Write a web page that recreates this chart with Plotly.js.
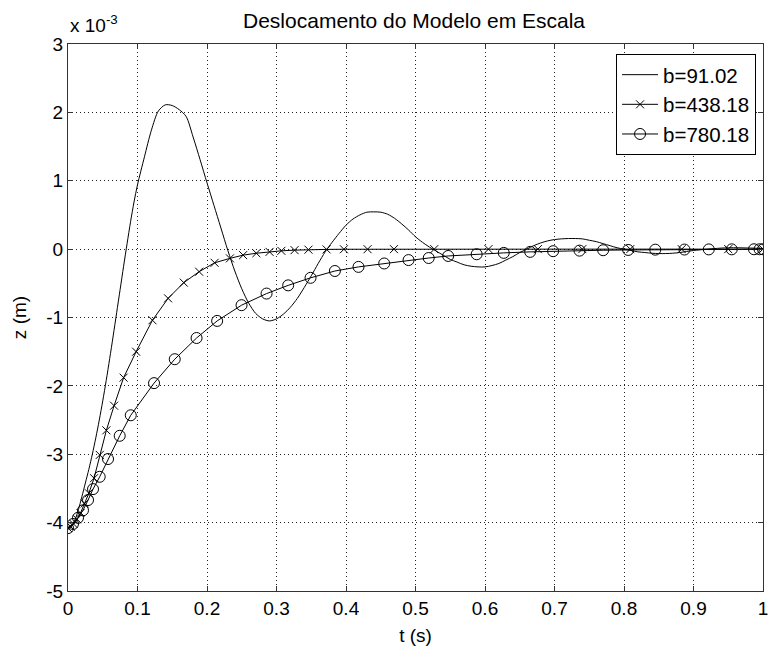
<!DOCTYPE html>
<html>
<head>
<meta charset="utf-8">
<script src="https://cdn.plot.ly/plotly-3.0.1.min.js"></script>
<style>html,body{margin:0;padding:0;background:#fff;}#chart{width:771px;height:657px;}</style>
</head>
<body>
<div id="chart"></div>
<script>
// z values are in units of 1e-3 m (see the "x 10^-3" label)
var t_b91 = [0, 0.005, 0.01, 0.015, 0.02, 0.025, 0.03, 0.035, 0.04, 0.045, 0.05, 0.055, 0.06, 0.065, 0.07, 0.075, 0.08, 0.085, 0.09, 0.095, 0.10,
  0.11, 0.12, 0.13, 0.14, 0.15, 0.16, 0.17, 0.18, 0.19, 0.20, 0.21, 0.22, 0.23, 0.24, 0.25, 0.26, 0.27, 0.28, 0.29, 0.30,
  0.31, 0.32, 0.33, 0.34, 0.35, 0.36, 0.37, 0.38, 0.39, 0.40, 0.41, 0.42, 0.43, 0.44, 0.45, 0.46, 0.47, 0.48, 0.49, 0.50,
  0.51, 0.52, 0.53, 0.54, 0.55, 0.56, 0.57, 0.58, 0.59, 0.60, 0.61, 0.62, 0.63, 0.64, 0.65, 0.66, 0.67, 0.68, 0.69, 0.70,
  0.71, 0.72, 0.73, 0.74, 0.75, 0.76, 0.77, 0.78, 0.79, 0.80, 0.81, 0.82, 0.83, 0.84, 0.85, 0.86, 0.87, 0.88, 0.89, 0.90,
  0.92, 0.95, 1.0];
var z_b91 = [-4.08, -4.05, -3.96, -3.81, -3.62, -3.42, -3.22, -3.00, -2.76, -2.50, -2.22, -1.92, -1.60, -1.27, -0.93, -0.59, -0.25, 0.08, 0.40, 0.69, 0.94,
  1.35, 1.74, 2.02, 2.11, 2.10, 2.04, 1.94, 1.64, 1.31, 0.97, 0.64, 0.31, -0.02, -0.32, -0.58, -0.79, -0.94, -1.02, -1.05, -1.02,
  -0.95, -0.85, -0.72, -0.56, -0.39, -0.21, -0.04, 0.10, 0.23, 0.35, 0.44, 0.50, 0.54, 0.545, 0.54, 0.51, 0.45, 0.37, 0.28, 0.18,
  0.10, 0.03, -0.03, -0.09, -0.15, -0.19, -0.23, -0.25, -0.26, -0.26, -0.24, -0.21, -0.16, -0.11, -0.05, 0.00, 0.05, 0.09, 0.12, 0.14,
  0.15, 0.155, 0.155, 0.15, 0.13, 0.11, 0.08, 0.05, 0.02, 0.00, -0.02, -0.04, -0.05, -0.06, -0.065, -0.065, -0.06, -0.05, -0.035, -0.02,
  0.00, 0.02, 0.01];

var t_b438 = [0, 0.004, 0.008, 0.013, 0.018, 0.024, 0.030, 0.0375, 0.0457, 0.0552, 0.0663, 0.080, 0.098, 0.1215, 0.144, 0.1666, 0.1887,
  0.211, 0.233, 0.252, 0.271, 0.29, 0.307, 0.326, 0.346, 0.372, 0.397, 0.431, 0.469, 0.527, 0.605, 0.676, 0.74, 0.809, 0.883, 0.95, 1.0];
var z_b438 = [-4.08, -4.06, -4.02, -3.95, -3.86, -3.72, -3.57, -3.35, -3.01, -2.65, -2.29, -1.88, -1.50, -1.04, -0.72, -0.49, -0.33,
  -0.20, -0.135, -0.088, -0.06, -0.04, -0.025, -0.015, -0.008, -0.004, -0.002, -0.001, 0, 0, 0, 0, 0, 0, 0, 0, 0];

var t_b780 = [0, 0.0072, 0.0144, 0.0216, 0.0288, 0.036, 0.0456, 0.0576, 0.0744, 0.0903, 0.1238, 0.1536, 0.185, 0.2146, 0.2497, 0.2857,
  0.3168, 0.349, 0.384, 0.418, 0.455, 0.49, 0.519, 0.547, 0.588, 0.627, 0.665, 0.698, 0.736, 0.770, 0.806, 0.845, 0.887, 0.922, 0.955,
  0.987, 0.995, 1.0];
var z_b780 = [-4.08, -4.02, -3.93, -3.82, -3.67, -3.51, -3.33, -3.07, -2.73, -2.43, -1.96, -1.61, -1.30, -1.05, -0.82, -0.65,
  -0.53, -0.42, -0.32, -0.26, -0.21, -0.16, -0.13, -0.10, -0.075, -0.055, -0.04, -0.03, -0.022, -0.016, -0.012, -0.008, -0.006, -0.004, -0.003,
  -0.002, -0.002, -0.002];

var seriesNames = ['b=91.02', 'b=438.18', 'b=780.18'];
var xTicks = [0, 0.1, 0.2, 0.3, 0.4, 0.5, 0.6, 0.7, 0.8, 0.9, 1];
var yTicks = [-5, -4, -3, -2, -1, 0, 1, 2, 3];

var FONT = 'Liberation Sans, Arial, sans-serif';

var traces = [
  {x: t_b91, y: z_b91, name: seriesNames[0], mode: 'lines', line: {color: '#000', width: 1, shape: 'spline', smoothing: 0.8}},
  {x: t_b438, y: z_b438, name: seriesNames[1], mode: 'lines+markers', line: {color: '#000', width: 1},
   marker: {symbol: 'x-thin-open', size: 8, color: '#000', line: {color: '#000', width: 1}}},
  {x: t_b780, y: z_b780, name: seriesNames[2], mode: 'lines+markers', line: {color: '#000', width: 1},
   marker: {symbol: 'circle-open', size: 11, color: '#000', line: {color: '#000', width: 1}}}
];

var axisCommon = {
  showline: true, linecolor: '#333', linewidth: 1, mirror: 'allticks',
  ticks: 'inside', ticklen: 5, tickcolor: '#333', tickwidth: 1,
  showgrid: true, gridcolor: '#222', gridwidth: 1, griddash: '1px,3px',
  zeroline: false, tickfont: {family: FONT, size: 19, color: '#000'}
};

var layout = {
  width: 771, height: 657,
  margin: {l: 68, r: 8, t: 44, b: 66, pad: 0},
  paper_bgcolor: '#fff', plot_bgcolor: '#fff',
  font: {family: FONT, color: '#000'},
  title: {text: 'Deslocamento do Modelo em Escala', font: {family: FONT, size: 21, color: '#000'},
          x: 0.537, xanchor: 'center', y: 0.968, yanchor: 'middle'},
  xaxis: Object.assign({}, axisCommon, {
    range: [0, 1], tickvals: xTicks, ticktext: xTicks.map(String),
    title: {text: 't (s)', font: {family: FONT, size: 19, color: '#000'}, standoff: 10}
  }),
  yaxis: Object.assign({}, axisCommon, {
    range: [-5, 3], tickvals: yTicks, ticktext: yTicks.map(String),
    title: {text: 'z (m)', font: {family: FONT, size: 19, color: '#000'}, standoff: 14}
  }),
  showlegend: true,
  legend: {x: 0.99, xanchor: 'right', y: 0.982, yanchor: 'top', bgcolor: '#fff', bordercolor: '#000', borderwidth: 1,
           font: {family: FONT, size: 20.5, color: '#000'}, tracegroupgap: 3, itemwidth: 36},
  annotations: [{
    text: 'x 10<sup>-3</sup>', xref: 'paper', yref: 'paper', x: 0, y: 1, xanchor: 'left', yanchor: 'bottom',
    yshift: 6, showarrow: false, font: {family: FONT, size: 19, color: '#000'}
  }]
};

Plotly.newPlot('chart', traces, layout, {displayModeBar: false, staticPlot: true});
</script>
</body>
</html>
